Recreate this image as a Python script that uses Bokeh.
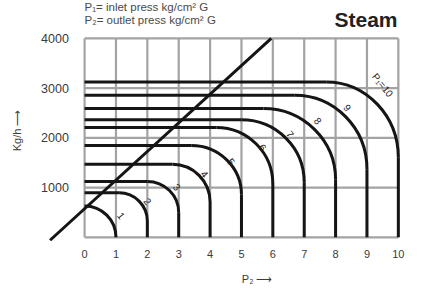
from bokeh.plotting import figure
from bokeh.models import Range1d, Label
from bokeh.core.properties import value
from bokeh.embed import file_html
from bokeh.resources import INLINE
import math

# ---- data ----
p1_values = [1, 2, 3, 4, 5, 6, 7, 8, 9, 10]
max_flow = [630, 895, 1124, 1467, 1848, 2210, 2362, 2590, 2857, 3124]   # kg/h plateau
knee_p2 = [0.0, 1.1, 2.0, 2.8, 3.4, 4.2, 5.0, 5.7, 6.7, 7.7]            # end of plateau
knee_flow = [0, 325, 494, 707, 858, 1070, 1105, 1160, 1367, 1600]       # start of vertical drop

curve_labels = ["1", "2", "3", "4", "5", "6", "7", "8", "9", "P\u2081=10"]
label_p2 = [1.17, 2.02, 2.95, 3.83, 4.68, 5.68, 6.56, 7.44, 8.38, 9.5]
label_flow = [438, 724, 1010, 1276, 1524, 1810, 2076, 2343, 2610, 3060]

diag_p2 = [-1.1, 5.95]
diag_flow = [-60, 4000]

x_ticks = [0, 1, 2, 3, 4, 5, 6, 7, 8, 9, 10]
x_tick_labels = ["0", "1", "2", "3", "4", "5", "6", "7", "8", "9", "10"]
y_grid = [0, 1000, 2000, 3000, 4000]
y_ticks = [1000, 2000, 3000, 4000]
y_tick_labels = ["1000", "2000", "3000", "4000"]

# ---- figure ----
W, H = 406, 286
x_start, x_end = -2.68, 10.26
y_start, y_end = -990, 4762

p = figure(width=W, height=H, output_backend="svg", toolbar_location=None,
           x_range=Range1d(x_start, x_end), y_range=Range1d(y_start, y_end),
           x_axis_location=None, y_axis_location=None, min_border=0)
p.grid.visible = False
p.outline_line_color = None
p.background_fill_color = "white"
p.border_fill_color = "white"

FONT = value("Liberation Sans")
GRID = "#a3a3a3"
INK = "#151515"
TXT = "#3a3a3a"

# grid
p.segment(x0=x_ticks, y0=[y_grid[0]] * len(x_ticks), x1=x_ticks, y1=[y_grid[-1]] * len(x_ticks),
          line_color=GRID, line_width=2.2)
p.segment(x0=[x_ticks[0]] * len(y_grid), y0=y_grid, x1=[x_ticks[-1]] * len(y_grid), y1=y_grid,
          line_color=GRID, line_width=2.2)

# curves: plateau, rounded corner, vertical drop
K = 0.5523
p.segment(x0=[0] * len(p1_values), y0=max_flow, x1=knee_p2, y1=max_flow,
          line_color=INK, line_width=3)
p.bezier(x0=knee_p2, y0=max_flow, x1=p1_values, y1=knee_flow,
         cx0=[a + K * (b - a) for a, b in zip(knee_p2, p1_values)], cy0=max_flow,
         cx1=p1_values, cy1=[a + K * (b - a) for a, b in zip(knee_flow, max_flow)],
         line_color=INK, line_width=3)
p.segment(x0=p1_values, y0=knee_flow, x1=p1_values, y1=[0] * len(p1_values),
          line_color=INK, line_width=3)

# critical line
p.line(diag_p2, diag_flow, line_color=INK, line_width=3)

# curve labels
p.text(x=label_p2, y=label_flow, text=curve_labels, angle=-0.9,
       text_font=FONT, text_font_size=value("10px"), text_color="#222222",
       text_align="center", text_baseline="middle")

# tick labels
p.text(x=x_ticks, y=[-343] * len(x_ticks), text=x_tick_labels,
       text_font=FONT, text_font_size=value("11px"), text_color=TXT,
       text_align="center", text_baseline="middle")
p.text(x=[-0.5] * len(y_ticks), y=y_ticks, text=y_tick_labels,
       text_font=FONT, text_font_size=value("12.5px"), text_color=TXT,
       text_align="right", text_baseline="middle")

# axis titles
p.text(x=[-2.17], y=[2150], text=["Kg/h \u27f6"], angle=math.pi / 2,
       text_font=FONT, text_font_size=value("11px"), text_color=TXT,
       text_align="center", text_baseline="middle")
p.text(x=[5.5], y=[-840], text=["P\u2082 \u27f6"],
       text_font=FONT, text_font_size=value("11px"), text_color=TXT,
       text_align="center", text_baseline="middle")

# header texts
p.add_layout(Label(x=84, y=280, x_units="screen", y_units="screen",
                   text="P\u2081= inlet press kg/cm\u00b2 G", text_font="Liberation Sans",
                   text_font_size="11.5px", text_color="#4a4a4a", text_baseline="middle"))
p.add_layout(Label(x=84, y=267, x_units="screen", y_units="screen",
                   text="P\u2082= outlet press kg/cm\u00b2 G", text_font="Liberation Sans",
                   text_font_size="11.5px", text_color="#4a4a4a", text_baseline="middle"))
p.add_layout(Label(x=334, y=267, x_units="screen", y_units="screen",
                   text="Steam", text_font="Liberation Sans", text_font_style="bold",
                   text_font_size="21px", text_color="#222222", text_baseline="middle"))

open("out.html", "w").write(file_html(p, INLINE))
